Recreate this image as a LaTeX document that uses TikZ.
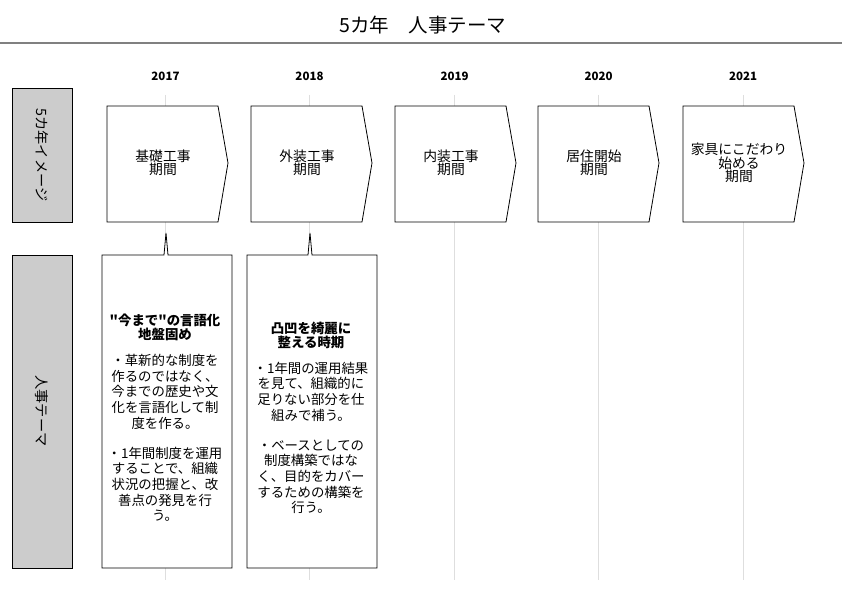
\documentclass[tikz,border=0pt]{standalone}
\usepackage{fontspec}
\setmainfont{Noto Sans CJK JP}[Ligatures=TeXOff]
\begin{document}
\begin{tikzpicture}[x=1pt,y=-1pt,
  grid/.style={draw=black!13,line width=0.8pt},
  chev/.style={draw=black,line width=0.8pt,fill=white},
  lab/.style={draw=black,line width=0.8pt,fill=black!20},
  yr/.style={font=\fontsize{11.5}{13}\selectfont\bfseries},
  ctext/.style={align=center,font=\fontsize{13.8}{13.5}\selectfont},
  body/.style={align=center,font=\fontsize{13.4}{15.7}\selectfont,inner sep=0pt},
  side/.style={rotate=-90,font=\fontsize{14.2}{16}\selectfont}]
\useasboundingbox (0,0) rectangle (842,596);
% title
\node (title) at (423,25) {\fontsize{19.5}{22}\selectfont 5カ年　人事テーマ};
\draw[line width=2.2pt,black!50] (0,43) -- (842,43);
% years and grid lines
\foreach \x/\y [count=\i] in {165.5/2017,309.5/2018,454.5/2019,598.5/2020,743/2021}{
  \node[yr] (y\i) at (\x,76) {\y};
  \coordinate (gt\i) at (\x,95);
  \coordinate (gb\i) at (\x,580);
  \draw[grid] (gt\i) -- (gb\i);
}
% side labels
\draw[lab] (12,88) rectangle (72,222);
\node[side] (s1) at (42,155) {5カ年イメージ};
\draw[lab] (12,255) rectangle (72,568);
\node[side] (s2) at (42,411) {人事テーマ};
% chevrons
\foreach \l/\t [count=\i] in {107/{基礎工事\\期間},251/{外装工事\\期間},395/{内装工事\\期間},538/{居住開始\\期間},683/{家具にこだわり\\始める\\期間}}{
  \draw[chev] (\l,106) -- ++(111,0) -- ++(10,57) -- ++(-10,59) -- ++(-111,0) -- cycle;
  \node[ctext] (c\i) at (\l+56,163) {\t};
}
% callout boxes
\draw[chev] (102,255) -- (164,255) -- (166,233) -- (168,255) -- (232,255) -- (232,568) -- (102,568) -- cycle;
\draw[chev] (247,255) -- (308,255) -- (310,233) -- (312,255) -- (377,255) -- (377,568) -- (247,568) -- cycle;
\node[body] (b1) at (165,418) {\textbf{"今まで"の言語化}\\[-1.7pt]\textbf{地盤固め}\\[10pt]・革新的な制度を\\作るのではなく、\\今までの歴史や文\\化を言語化して制\\度を作る。\\[14pt]・1年間制度を運用\\することで、組織\\状況の把握と、改\\善点の発見を行\\う。};
\node[body] (b2) at (311,418) {\textbf{凸凹を綺麗に}\\[-1.7pt]\textbf{整える時期}\\[10pt]・1年間の運用結果\\を見て、組織的に\\足りない部分を仕\\組みで補う。\\[14pt]・ベースとしての\\制度構築ではな\\く、目的をカバー\\するための構築を\\行う。};
\end{tikzpicture}
\end{document}
